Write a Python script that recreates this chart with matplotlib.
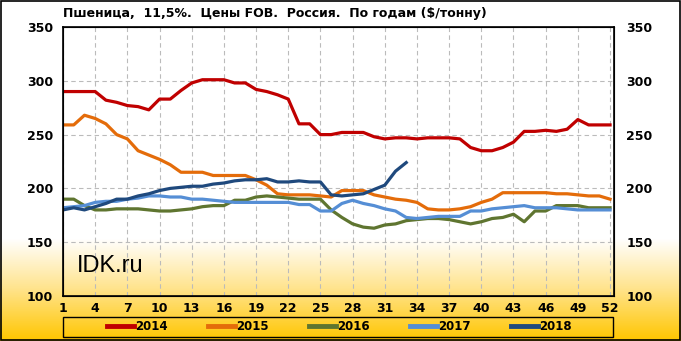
import numpy as np
import matplotlib
matplotlib.use("Agg")
import matplotlib.pyplot as plt
from matplotlib.colors import LinearSegmentedColormap

# Weekly FOB prices, $/t
weeks = np.arange(1, 53)
p2014 = [290, 290, 290, 290, 282, 280, 277, 276, 273, 283, 283, 291, 298, 301, 301, 301,
         298, 298, 292, 290, 287, 283, 260, 260, 250, 250, 252, 252, 252, 248, 246, 247,
         247, 246, 247, 247, 247, 246, 238, 235, 235, 238, 243, 253, 253, 254, 253, 255,
         264, 259, 259, 259]
p2015 = [259, 259, 268, 265, 260, 250, 246, 235, 231, 227, 222, 215, 215, 215, 212, 212,
         212, 212, 208, 203, 195, 194, 194, 194, 193, 192, 198, 198, 198, 194, 192, 190,
         189, 187, 181, 180, 180, 181, 183, 187, 190, 196, 196, 196, 196, 196, 195, 195,
         194, 193, 193, 190]
p2016 = [190, 190, 184, 180, 180, 181, 181, 181, 180, 179, 179, 180, 181, 183, 184, 184,
         189, 189, 192, 193, 192, 191, 190, 190, 190, 180, 173, 167, 164, 163, 166, 167,
         170, 171, 172, 172, 171, 169, 167, 169, 172, 173, 176, 169, 179, 179, 184, 184,
         184, 182, 182, 182]
p2017 = [182, 183, 184, 187, 188, 188, 190, 191, 193, 193, 192, 192, 190, 190, 189, 188,
         187, 187, 187, 187, 187, 187, 185, 185, 179, 179, 186, 189, 186, 184, 181, 179,
         173, 172, 173, 174, 174, 174, 179, 179, 181, 182, 183, 184, 182, 182, 182, 181,
         180, 180, 180, 180]
p2018 = [180, 182, 180, 183, 186, 190, 190, 193, 195, 198, 200, 201, 202, 202, 204, 205,
         207, 208, 208, 209, 206, 206, 207, 206, 206, 194, 193, 194, 195, 199, 203, 216, 224]

series = [("2014", p2014, "#C00000"), ("2015", p2015, "#E46C0A"),
          ("2016", p2016, "#5F7530"), ("2017", p2017, "#558ED5"),
          ("2018", p2018, "#1F497D")]

title = "Пшеница,  11,5%.  Цены FOB.  Россия.  По годам ($/тонну)"

fig = plt.figure(figsize=(6.81, 3.41), dpi=100)

# background gradient: white top, gold bottom
bg = fig.add_axes([0, 0, 1, 1], zorder=0)
grad = np.linspace(0, 1, 341)
vals = np.clip((grad - 0.70) / 0.30, 0, 1)
cmap = LinearSegmentedColormap.from_list("g", ["#FFFFFF", "#FFE38A", "#FFC600"])
bg.imshow(vals[:, None], aspect="auto", cmap=cmap, extent=[0, 1, 0, 1], vmin=0, vmax=1)
bg.axis("off")
bg.add_patch(plt.Rectangle((0.001, 0.002), 0.997, 0.995, fill=False, ec="black", lw=1.2,
                           transform=bg.transAxes))
# legend frame
bg.add_patch(plt.Rectangle((63 / 681, 1 - 337 / 341), 550 / 681, 20 / 341, fill=False,
                           ec="black", lw=1.0, transform=bg.transAxes))

ax = fig.add_axes([63 / 681, 1 - 296 / 341, (614 - 63) / 681, (296 - 27) / 341], zorder=1)
ax.patch.set_alpha(0)
for name, vals_, col in series:
    ax.plot(weeks[:len(vals_)], vals_, color=col, lw=2.3, label=name, solid_joinstyle="round")

ax.set_xlim(1, 52.37)
ax.set_ylim(100, 350)
ax.set_xticks(np.arange(1, 53, 3))
ax.set_yticks(np.arange(100, 351, 50))
ax.grid(True, color="#BBBBBB", ls=(0, (4, 3)), lw=0.8)
ax.tick_params(length=0, labelsize=9)
ax.tick_params(axis="x", pad=4)
ax.tick_params(axis="y", pad=7)
for lab in ax.get_xticklabels() + ax.get_yticklabels():
    lab.set_fontweight("bold")
for s in ax.spines.values():
    s.set_color("black")
    s.set_linewidth(1.2)

ax2 = ax.twinx()
ax2.set_ylim(100, 350)
ax2.set_yticks(np.arange(100, 351, 50))
ax2.tick_params(length=0, labelsize=9, pad=9)
for lab in ax2.get_yticklabels():
    lab.set_fontweight("bold")

fig.text(63 / 681, 1 - 14 / 341, title, fontsize=9, fontweight="bold", va="center", ha="left")
ax.text(0.025, 0.07, "IDK.ru", transform=ax.transAxes, fontsize=17,
        family="Liberation Sans", ha="left", va="bottom")

leg = ax.legend(loc="center", bbox_to_anchor=(0.5 * 549 / 551 + (340 - 338) / 551, -0.115),
                ncol=5, frameon=False, fontsize=8.5, handlelength=2.3, handletextpad=0.1,
                columnspacing=3.4, borderaxespad=0, borderpad=0.0)
for t in leg.get_texts():
    t.set_fontweight("bold")
for h in leg.get_lines():
    h.set_linewidth(3.5)

fig.savefig("out.png", dpi=100)
